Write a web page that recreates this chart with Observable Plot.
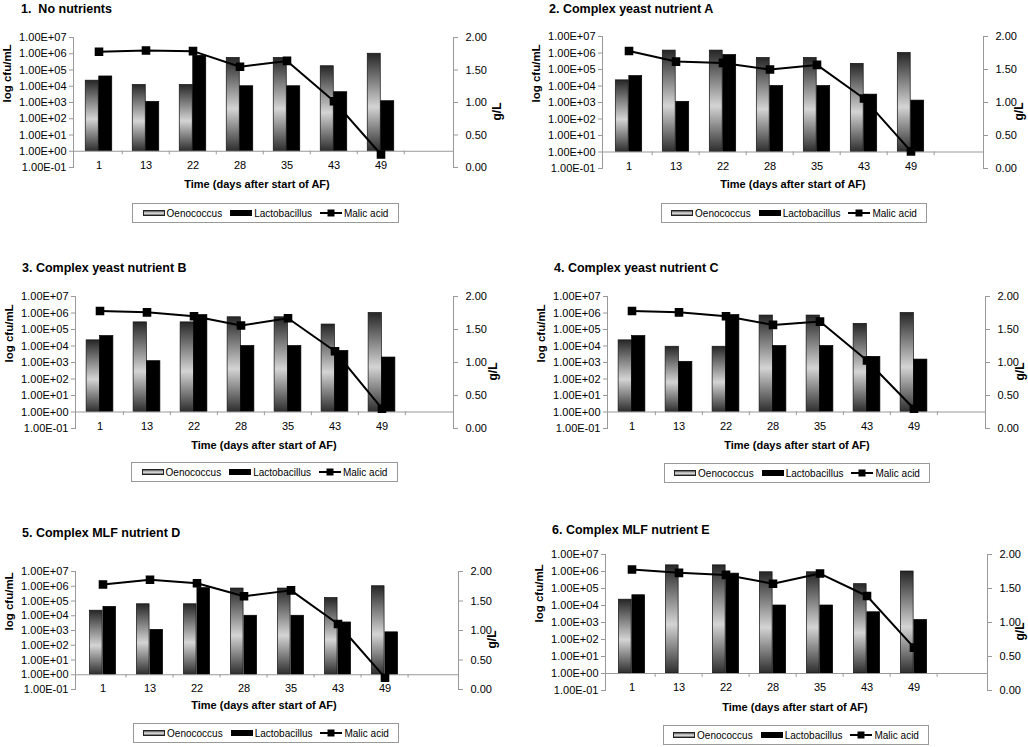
<!DOCTYPE html>
<html>
<head>
<meta charset="utf-8">
<script src="https://cdn.jsdelivr.net/npm/d3@7"></script>
<script src="https://cdn.jsdelivr.net/npm/@observablehq/plot@0.6"></script>
<style>
  html, body { margin: 0; padding: 0; background: #fff; }
  #root { position: relative; width: 1028px; height: 747px; overflow: hidden; font-family: "Liberation Sans", Arial, sans-serif; color: #000; }
  .title { position: absolute; font-weight: bold; font-size: 12.5px; white-space: pre; }
  .xtitle { position: absolute; font-weight: bold; font-size: 11px; white-space: pre; transform: translate(-50%, -50%); }
  .legend { position: absolute; border: 1px solid #999; display: flex; align-items: center; justify-content: center; font-size: 10px; box-sizing: border-box; white-space: nowrap; }
  .legend .item { display: flex; align-items: center; margin: 0 4px; white-space: nowrap; }
  .sw { display: inline-block; width: 22px; height: 6px; margin-right: 2px; box-sizing: border-box; }
  .sw.oeno { border: 1px solid #222; background: linear-gradient(to bottom, #555, #e8e8e8 55%, #666); }
  .sw.lacto { background: #000; height: 6px; }
  svg.plot { position: absolute; overflow: visible; }
</style>
</head>
<body>
<svg width="0" height="0" style="position:absolute">
  <defs>
    <linearGradient id="oenoGrad" x1="0" y1="0" x2="0" y2="1">
      <stop offset="0" stop-color="#262626"/>
      <stop offset="0.55" stop-color="#d4d4d4"/>
      <stop offset="1" stop-color="#2e2e2e"/>
    </linearGradient>
  </defs>
</svg>
<div id="root"></div>
<script>
// ---------- data ----------
const days = ["1", "13", "22", "28", "35", "43", "49"];
const titles = [
  "1.  No nutrients",
  "2. Complex yeast nutrient A",
  "3. Complex yeast nutrient B",
  "4. Complex yeast nutrient C",
  "5. Complex MLF nutrient D",
  "6. Complex MLF nutrient E"
];
const oenococcus = [
  [2.2e4, 1.2e4, 1.2e4, 5.5e5, 5.5e5, 1.7e5, 1.0e6],
  [2.2e4, 1.4e6, 1.4e6, 5.0e5, 5.0e5, 2.2e5, 1.0e6],
  [2.2e4, 2.7e5, 2.7e5, 5.5e5, 5.5e5, 2.0e5, 1.0e6],
  [2.2e4, 9.0e3, 9.0e3, 7.0e5, 7.0e5, 2.2e5, 1.0e6],
  [2.2e4, 6.0e4, 6.0e4, 7.0e5, 7.0e5, 1.6e5, 1.0e6],
  [2.2e4, 2.3e6, 2.3e6, 9.0e5, 9.0e5, 1.8e5, 1.0e6]
];
const lactobacillus = [
  [4.0e4, 1.1e3, 7.5e5, 1.0e4, 1.0e4, 4.3e3, 1.2e3],
  [4.0e4, 1.1e3, 7.5e5, 1.0e4, 1.0e4, 3.0e3, 1.3e3],
  [4.0e4, 1.2e3, 7.5e5, 1.0e4, 1.0e4, 5.0e3, 2.0e3],
  [4.0e4, 1.1e3, 7.5e5, 1.0e4, 1.0e4, 2.2e3, 1.5e3],
  [4.0e4, 1.1e3, 7.5e5, 1.0e4, 1.0e4, 3.5e3, 7.5e2],
  [4.0e4, null,  7.5e5, 1.0e4, 1.0e4, 4.0e3, 1.4e3]
];
const malicAcid = [
  [1.78, 1.80, 1.79, 1.55, 1.64, 1.02, 0.20],
  [1.78, 1.62, 1.60, 1.50, 1.57, 1.06, 0.26],
  [1.78, 1.76, 1.70, 1.56, 1.67, 1.17, 0.30],
  [1.78, 1.76, 1.70, 1.57, 1.62, 1.03, 0.30],
  [1.78, 1.86, 1.80, 1.58, 1.68, 1.11, 0.20],
  [1.78, 1.73, 1.70, 1.57, 1.72, 1.39, 0.63]
];
const logTicks = [1e-1, 1e0, 1e1, 1e2, 1e3, 1e4, 1e5, 1e6, 1e7];
const logTickLabels = ["1.00E-01", "1.00E+00", "1.00E+01", "1.00E+02", "1.00E+03", "1.00E+04", "1.00E+05", "1.00E+06", "1.00E+07"];
const gTicks = [0, 0.5, 1, 1.5, 2];
const gTickLabels = ["0.00", "0.50", "1.00", "1.50", "2.00"];
const legendLabels = ["Oenococcus", "Lactobacillus", "Malic acid"];
const yLabelLeft = "log cfu/mL";
const yLabelRight = "g/L";
const xLabel = "Time (days after start of AF)";

// ---------- layout (page positions) ----------
const layout = [
  {ax: 73,  bx: 453, top: 37,  bot: 167, gx: 44, tx: 21,  ty: 2,   xtx: 257, xty: 184, lg: [132, 203, 267, 20]},
  {ax: 602, bx: 983, top: 36,  bot: 168, gx: 36, tx: 549, ty: 2,   xtx: 793, xty: 184, lg: [661, 203, 266, 20]},
  {ax: 75,  bx: 453, top: 296, bot: 428, gx: 40, tx: 22,  ty: 261, xtx: 264, xty: 445, lg: [131, 462, 267, 20]},
  {ax: 607, bx: 985, top: 296, bot: 428, gx: 35, tx: 554, ty: 261, xtx: 797, xty: 445, lg: [664, 463, 266, 20]},
  {ax: 75,  bx: 458, top: 571, bot: 689, gx: 34, tx: 22,  ty: 526, xtx: 264, xty: 705, lg: [133, 723, 266, 20]},
  {ax: 605, bx: 987, top: 554, bot: 690, gx: 33, tx: 552, ty: 523, xtx: 795, xty: 707, lg: [663, 725, 266, 20]}
];

const root = document.getElementById("root");
const font = "Liberation Sans, Arial, sans-serif";
const ml = 80, mr = 60, mt = 10, mb = 12;
const xDomain = [...days, " "];

layout.forEach((L, i) => {
  const data = days.map((d, j) => ({day: d, oeno: oenococcus[i][j], lacto: lactobacillus[i][j], malic: malicAcid[i][j]}));
  const W = ml + (L.bx - L.ax) + mr;
  const H = mt + (L.bot - L.top) + mb;
  const bw = (L.bx - L.ax) / xDomain.length;
  const barW = 13.5;
  const common = {
    width: W, height: H, marginLeft: ml, marginRight: mr, marginTop: mt, marginBottom: mb,
    style: {fontFamily: font, fontSize: "11px", color: "#000", background: "transparent", overflow: "visible"},
    x: {type: "band", domain: xDomain, padding: 0, axis: null}
  };

  const logPlot = Plot.plot({
    ...common,
    y: {type: "log", domain: [0.1, 1e7], axis: null},
    marks: [
      Plot.barY(data, {x: "day", y1: 1, y2: "oeno", fill: "url(#oenoGrad)", stroke: "#111", strokeWidth: 0.7, insetLeft: bw / 2 - barW, insetRight: bw / 2}),
      Plot.barY(data.filter(d => d.lacto != null), {x: "day", y1: 1, y2: "lacto", fill: "#000", stroke: "#000", strokeWidth: 0.7, insetLeft: bw / 2, insetRight: bw / 2 - barW}),
      Plot.ruleY([1], {stroke: "#999", strokeWidth: 1}),
      Plot.ruleX(xDomain.slice(1), {x: d => d, y1: 1, y2: 0.6, dx: -bw / 2, stroke: "#999"}),
      Plot.axisY(logTicks, {anchor: "left", tickFormat: d => logTickLabels[Math.round(Math.log10(d)) + 1], tickSize: 4, tickPadding: 3, stroke: "#999", fill: "#000", fontSize: 11, label: null}),
      Plot.frame({anchor: "left", stroke: "#999"}),
      Plot.text(days, {x: d => d, y: 1, dy: 14, text: d => d, fontSize: 11, fill: "#000"}),
      Plot.text([yLabelLeft], {frameAnchor: "left", dx: -66, rotate: -90, fontWeight: "bold", fontSize: 11.5, fill: "#000"})
    ]
  });
  logPlot.classList.add("plot");
  logPlot.style.left = (L.ax - ml) + "px";
  logPlot.style.top = (L.top - mt) + "px";
  root.appendChild(logPlot);

  const linPlot = Plot.plot({
    ...common,
    y: {domain: [0, 2], axis: null},
    marks: [
      Plot.axisY(gTicks, {anchor: "right", tickFormat: d => gTickLabels[gTicks.indexOf(d)], tickSize: 4, tickPadding: 8, stroke: "#999", fill: "#000", fontSize: 11, label: null}),
      Plot.frame({anchor: "right", stroke: "#999"}),
      Plot.line(data, {x: "day", y: "malic", stroke: "#000", strokeWidth: 2}),
      Plot.dot(data, {x: "day", y: "malic", symbol: "square", r: 4, fill: "#000", stroke: "#000"}),
      Plot.text([yLabelRight], {frameAnchor: "right", dx: L.gx, rotate: -90, fontWeight: "bold", fontSize: 12, fill: "#000"})
    ]
  });
  linPlot.classList.add("plot");
  linPlot.style.left = (L.ax - ml) + "px";
  linPlot.style.top = (L.top - mt) + "px";
  root.appendChild(linPlot);

  const t = document.createElement("div");
  t.className = "title";
  t.textContent = titles[i];
  t.style.left = L.tx + "px";
  t.style.top = L.ty + "px";
  root.appendChild(t);

  const xt = document.createElement("div");
  xt.className = "xtitle";
  xt.textContent = xLabel;
  xt.style.left = L.xtx + "px";
  xt.style.top = L.xty + "px";
  root.appendChild(xt);

  const lg = document.createElement("div");
  lg.className = "legend";
  lg.style.left = L.lg[0] + "px";
  lg.style.top = L.lg[1] + "px";
  lg.style.width = L.lg[2] + "px";
  lg.style.height = L.lg[3] + "px";
  lg.innerHTML =
    `<span class="item"><span class="sw oeno"></span>${legendLabels[0]}</span>` +
    `<span class="item"><span class="sw lacto"></span>${legendLabels[1]}</span>` +
    `<span class="item"><svg width="22" height="8" style="margin-right:2px"><line x1="0" y1="4" x2="22" y2="4" stroke="#000" stroke-width="2"/><rect x="7.5" y="0.5" width="7" height="7" fill="#000"/></svg>${legendLabels[2]}</span>`;
  root.appendChild(lg);
});
</script>
</body>
</html>
